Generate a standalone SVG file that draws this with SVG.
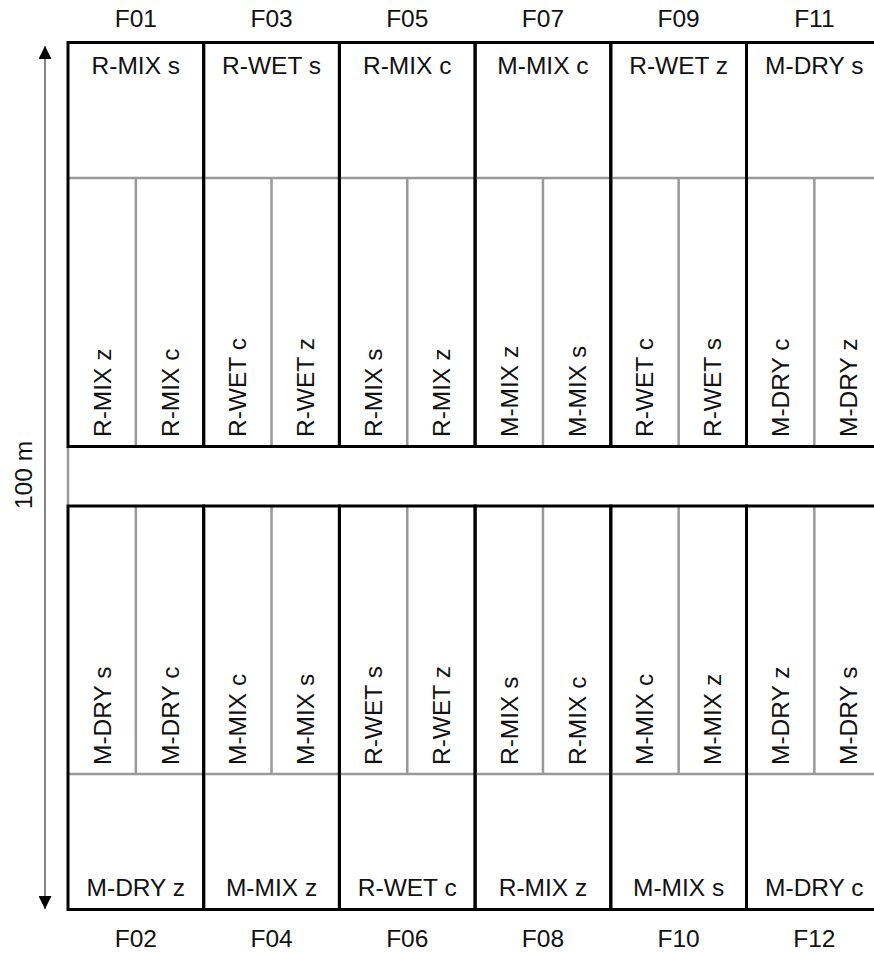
<svg xmlns="http://www.w3.org/2000/svg" width="874" height="953" viewBox="0 0 874 953">
<style>
text{font-family:"Liberation Sans",Arial,sans-serif;font-size:24.5px;fill:#111}
.c{text-anchor:middle}
.plot{fill:none;stroke:#000;stroke-width:3}
.g{stroke:#999;stroke-width:2.5;fill:none}
</style>
<defs>
<marker id="ah" viewBox="0 0 14 13" refX="13" refY="6.5" markerWidth="14" markerHeight="13" markerUnits="userSpaceOnUse" orient="auto">
<path d="M0,0 L13,6.5 L0,13 Z" fill="#000"/>
</marker>
</defs>
<rect width="874" height="953" fill="#fff"/>
<g id="connectors">
<line x1="45" y1="477" x2="45" y2="46" stroke="#666" stroke-width="1.6" marker-end="url(#ah)"/>
<line x1="45" y1="477" x2="45" y2="909" stroke="#666" stroke-width="1.6" marker-end="url(#ah)"/>
</g>
<text transform="translate(31.5,475) rotate(-90)" class="c">100 m</text>
<line class="g" x1="68" y1="446" x2="68" y2="506"/>

<g id="F01">
<path class="g" d="M68,178H203.7M135.85,178V446.5"/>
<rect class="plot" x="68" y="42.5" width="135.7" height="404"/>
<text class="c" x="135.85" y="27">F01</text>
<text class="c" x="135.85" y="74">R-MIX s</text>
<text transform="translate(110.6,437) rotate(-90)">R-MIX z</text>
<text transform="translate(178.5,437) rotate(-90)">R-MIX c</text>
</g>
<g id="F03">
<path class="g" d="M203.7,178H339.4M271.55,178V446.5"/>
<rect class="plot" x="203.7" y="42.5" width="135.7" height="404"/>
<text class="c" x="271.55" y="27">F03</text>
<text class="c" x="271.55" y="74">R-WET s</text>
<text transform="translate(246.3,437) rotate(-90)">R-WET c</text>
<text transform="translate(314.2,437) rotate(-90)">R-WET z</text>
</g>
<g id="F05">
<path class="g" d="M339.4,178H475.1M407.25,178V446.5"/>
<rect class="plot" x="339.4" y="42.5" width="135.7" height="404"/>
<text class="c" x="407.25" y="27">F05</text>
<text class="c" x="407.25" y="74">R-MIX c</text>
<text transform="translate(382,437) rotate(-90)">R-MIX s</text>
<text transform="translate(449.9,437) rotate(-90)">R-MIX z</text>
</g>
<g id="F07">
<path class="g" d="M475.1,178H610.8M542.95,178V446.5"/>
<rect class="plot" x="475.1" y="42.5" width="135.7" height="404"/>
<text class="c" x="542.95" y="27">F07</text>
<text class="c" x="542.95" y="74">M-MIX c</text>
<text transform="translate(517.7,437) rotate(-90)">M-MIX z</text>
<text transform="translate(585.6,437) rotate(-90)">M-MIX s</text>
</g>
<g id="F09">
<path class="g" d="M610.8,178H746.5M678.65,178V446.5"/>
<rect class="plot" x="610.8" y="42.5" width="135.7" height="404"/>
<text class="c" x="678.65" y="27">F09</text>
<text class="c" x="678.65" y="74">R-WET z</text>
<text transform="translate(653.4,437) rotate(-90)">R-WET c</text>
<text transform="translate(721.3,437) rotate(-90)">R-WET s</text>
</g>
<g id="F11">
<path class="g" d="M746.5,178H882.2M814.35,178V446.5"/>
<rect class="plot" x="746.5" y="42.5" width="135.7" height="404"/>
<text class="c" x="814.35" y="27">F11</text>
<text class="c" x="814.35" y="74">M-DRY s</text>
<text transform="translate(789.1,437) rotate(-90)">M-DRY c</text>
<text transform="translate(857,437) rotate(-90)">M-DRY z</text>
</g>

<g id="F02">
<path class="g" d="M68,774H203.7M135.85,506V774"/>
<rect class="plot" x="68" y="506" width="135.7" height="403.5"/>
<text class="c" x="135.85" y="947">F02</text>
<text class="c" x="135.85" y="896">M-DRY z</text>
<text transform="translate(110.6,765) rotate(-90)">M-DRY s</text>
<text transform="translate(178.5,765) rotate(-90)">M-DRY c</text>
</g>
<g id="F04">
<path class="g" d="M203.7,774H339.4M271.55,506V774"/>
<rect class="plot" x="203.7" y="506" width="135.7" height="403.5"/>
<text class="c" x="271.55" y="947">F04</text>
<text class="c" x="271.55" y="896">M-MIX z</text>
<text transform="translate(246.3,765) rotate(-90)">M-MIX c</text>
<text transform="translate(314.2,765) rotate(-90)">M-MIX s</text>
</g>
<g id="F06">
<path class="g" d="M339.4,774H475.1M407.25,506V774"/>
<rect class="plot" x="339.4" y="506" width="135.7" height="403.5"/>
<text class="c" x="407.25" y="947">F06</text>
<text class="c" x="407.25" y="896">R-WET c</text>
<text transform="translate(382,765) rotate(-90)">R-WET s</text>
<text transform="translate(449.9,765) rotate(-90)">R-WET z</text>
</g>
<g id="F08">
<path class="g" d="M475.1,774H610.8M542.95,506V774"/>
<rect class="plot" x="475.1" y="506" width="135.7" height="403.5"/>
<text class="c" x="542.95" y="947">F08</text>
<text class="c" x="542.95" y="896">R-MIX z</text>
<text transform="translate(517.7,765) rotate(-90)">R-MIX s</text>
<text transform="translate(585.6,765) rotate(-90)">R-MIX c</text>
</g>
<g id="F10">
<path class="g" d="M610.8,774H746.5M678.65,506V774"/>
<rect class="plot" x="610.8" y="506" width="135.7" height="403.5"/>
<text class="c" x="678.65" y="947">F10</text>
<text class="c" x="678.65" y="896">M-MIX s</text>
<text transform="translate(653.4,765) rotate(-90)">M-MIX c</text>
<text transform="translate(721.3,765) rotate(-90)">M-MIX z</text>
</g>
<g id="F12">
<path class="g" d="M746.5,774H882.2M814.35,506V774"/>
<rect class="plot" x="746.5" y="506" width="135.7" height="403.5"/>
<text class="c" x="814.35" y="947">F12</text>
<text class="c" x="814.35" y="896">M-DRY c</text>
<text transform="translate(789.1,765) rotate(-90)">M-DRY z</text>
<text transform="translate(857,765) rotate(-90)">M-DRY s</text>
</g>
</svg>
